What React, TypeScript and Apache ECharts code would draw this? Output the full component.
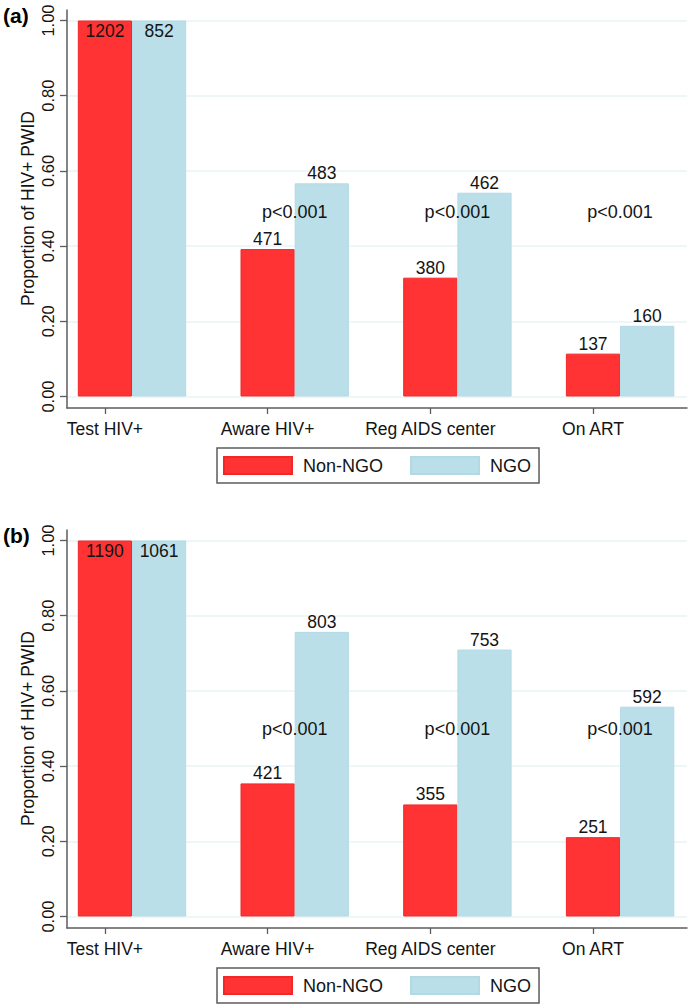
import React, { useEffect, useRef } from "react";
import * as echarts from "echarts";

const CATEGORIES = ["Test HIV+", "Aware HIV+", "Reg AIDS center", "On ART"];
const SERIES_NAMES = ["Non-NGO", "NGO"];

// Panel (a)
const A_NON_NGO_COUNTS = [1202, 471, 380, 137];
const A_NGO_COUNTS = [852, 483, 462, 160];
const A_NON_NGO_PROP = [1.0, 0.392, 0.316, 0.114];
const A_NGO_PROP = [1.0, 0.567, 0.542, 0.188];
const A_P_LABELS = ["", "p<0.001", "p<0.001", "p<0.001"];
const A_P_LEVEL = 0.49;

// Panel (b)
const B_NON_NGO_COUNTS = [1190, 421, 355, 251];
const B_NGO_COUNTS = [1061, 803, 753, 592];
const B_NON_NGO_PROP = [1.0, 0.354, 0.298, 0.211];
const B_NGO_PROP = [1.0, 0.757, 0.71, 0.558];
const B_P_LABELS = ["", "p<0.001", "p<0.001", "p<0.001"];
const B_P_LEVEL = 0.5;

const PANEL_LETTERS = ["(a)", "(b)"];
const Y_TITLE = "Proportion of HIV+ PWID";

const FONT = "'Liberation Sans', Arial, Helvetica, sans-serif";
const RED = "#FF3333";
const RED_BORDER = "#F22828";
const BLUE = "#BBDFE9";
const BLUE_BORDER = "#B2DAE5";
const AXIS_COLOR = "#5c5c5c";
const GRID_COLOR = "#E8F3F6";
const TEXT_COLOR = "#141414";

type PanelData = {
  redCounts: number[];
  blueCounts: number[];
  redProp: number[];
  blueProp: number[];
  pLabels: string[];
  pLevel: number;
};

const PANELS: PanelData[] = [
  {
    redCounts: A_NON_NGO_COUNTS,
    blueCounts: A_NGO_COUNTS,
    redProp: A_NON_NGO_PROP,
    blueProp: A_NGO_PROP,
    pLabels: A_P_LABELS,
    pLevel: A_P_LEVEL,
  },
  {
    redCounts: B_NON_NGO_COUNTS,
    blueCounts: B_NGO_COUNTS,
    redProp: B_NON_NGO_PROP,
    blueProp: B_NGO_PROP,
    pLabels: B_P_LABELS,
    pLevel: B_P_LEVEL,
  },
];

function buildOption() {
  const grid: any[] = [];
  const xAxis: any[] = [];
  const yAxis: any[] = [];
  const series: any[] = [];
  const legend: any[] = [];
  const title: any[] = [];

  const PLOT_TOP = 20.5;
  const PLOT_H = 376;
  const PANEL_DY = 520;
  const FRAME_LEFT = 67;
  const FRAME_W = 620;
  const BAND = 162.7;
  const BAR_W = 54.2;
  const FIRST_CENTER = 132;
  const TICKS_LEFT = FIRST_CENTER - BAR_W / 2 - BAND / 2;
  const AXIS_BOTTOM = 408;

  PANELS.forEach((p, pi) => {
    const dy = pi * PANEL_DY;
    const g0 = grid.length;

    // frame grid: y axis ticks, labels, gridlines
    grid.push({ left: FRAME_LEFT, top: PLOT_TOP + dy, width: FRAME_W, height: PLOT_H });
    xAxis.push({ gridIndex: g0, type: "value", show: false, min: 0, max: 1 });
    yAxis.push({
      gridIndex: g0,
      type: "value",
      min: 0,
      max: 1,
      interval: 0.2,
      axisLine: { show: false },
      axisTick: { show: true, length: 7, lineStyle: { color: AXIS_COLOR, width: 1.3 } },
      axisLabel: {
        rotate: 90,
        margin: 11,
        fontSize: 16.5,
        color: TEXT_COLOR,
        fontFamily: FONT,
        formatter: (v: number) => v.toFixed(2),
      },
      splitLine: { show: true, lineStyle: { color: GRID_COLOR, width: 1.5 } },
      name: Y_TITLE,
      nameLocation: "middle",
      nameRotate: 90,
      nameGap: 30,
      nameMoveOverlap: false,
      nameTextStyle: { fontSize: 17.5, color: TEXT_COLOR, fontFamily: FONT },
    });

    // line grid: axis lines
    grid.push({ left: FRAME_LEFT, top: 10 + dy, width: FRAME_W, height: AXIS_BOTTOM - 10 });
    xAxis.push({
      gridIndex: g0 + 1,
      type: "value",
      min: 0,
      max: 1,
      axisLine: { show: true, onZero: false, lineStyle: { color: AXIS_COLOR, width: 1.5 } },
      axisTick: { show: false },
      axisLabel: { show: false },
      splitLine: { show: false },
    });
    yAxis.push({
      gridIndex: g0 + 1,
      type: "value",
      min: 0,
      max: 1,
      axisLine: { show: true, onZero: false, lineStyle: { color: AXIS_COLOR, width: 1.5 } },
      axisTick: { show: false },
      axisLabel: { show: false },
      splitLine: { show: false },
    });

    // ticks grid: category labels at first-bar centres
    grid.push({ left: TICKS_LEFT, top: PLOT_TOP + dy, width: BAND * 4, height: AXIS_BOTTOM - PLOT_TOP });
    xAxis.push({
      gridIndex: g0 + 2,
      type: "category",
      data: CATEGORIES,
      axisLine: { show: false },
      axisTick: { show: true, alignWithLabel: true, length: 6, lineStyle: { color: AXIS_COLOR, width: 1.3 } },
      axisLabel: { margin: 12, fontSize: 17.5, color: TEXT_COLOR, fontFamily: FONT, interval: 0 },
    });
    yAxis.push({ gridIndex: g0 + 2, type: "value", show: false, min: 0, max: 1, splitLine: { show: false } });

    // bars grid: category points at group centres
    grid.push({ left: FIRST_CENTER, top: PLOT_TOP + dy, width: BAND * 3, height: PLOT_H });
    xAxis.push({ gridIndex: g0 + 3, type: "category", data: CATEGORIES, boundaryGap: false, show: false });
    yAxis.push({ gridIndex: g0 + 3, type: "value", show: false, min: 0, max: 1, splitLine: { show: false } });

    const mkBar = (name: string, props: number[], counts: number[], color: string, border: string) => ({
      type: "bar",
      name,
      xAxisIndex: g0 + 3,
      yAxisIndex: g0 + 3,
      barWidth: BAR_W,
      barGap: "0%",
      clip: false,
      z: 3,
      itemStyle: { color, borderColor: border, borderWidth: 1 },
      data: props.map((v) => ({
        value: v,
        label: { position: v >= 0.99 ? "insideTop" : "top", distance: 1 },
      })),
      label: {
        show: true,
        fontSize: 17.5,
        color: TEXT_COLOR,
        fontFamily: FONT,
        formatter: (d: any) => String(counts[d.dataIndex]),
      },
    });
    series.push(mkBar(SERIES_NAMES[0], p.redProp, p.redCounts, RED, RED_BORDER));
    series.push(mkBar(SERIES_NAMES[1], p.blueProp, p.blueCounts, BLUE, BLUE_BORDER));

    series.push({
      type: "scatter",
      name: "p",
      xAxisIndex: g0 + 3,
      yAxisIndex: g0 + 3,
      symbolSize: 1,
      z: 5,
      clip: false,
      itemStyle: { color: "rgba(0,0,0,0)", opacity: 1 },
      data: p.pLabels
        .map((t, i) => (t ? { value: [i, p.pLevel], name: t } : null))
        .filter((d) => d !== null),
      label: {
        show: true,
        position: "inside",
        fontSize: 18,
        color: TEXT_COLOR,
        opacity: 1,
        fontFamily: FONT,
        formatter: (d: any) => d.name,
      },
    });

    legend.push({
      data: SERIES_NAMES,
      left: 217,
      top: 448 + dy,
      orient: "horizontal",
      padding: [8, 8, 8, 6],
      itemGap: 27,
      itemWidth: 68,
      itemHeight: 17,
      icon: "rect",
      borderColor: AXIS_COLOR,
      borderWidth: 1.5,
      selectedMode: false,
      textStyle: { fontSize: 18, color: TEXT_COLOR, fontFamily: FONT, padding: [0, 0, 0, 6] },
    });

    title.push({
      text: PANEL_LETTERS[pi],
      left: 3,
      top: 5 + dy,
      padding: 0,
      textStyle: { fontSize: 21, fontWeight: "bold", color: "#000", fontFamily: FONT },
    });
  });

  return {
    animation: false,
    backgroundColor: "#ffffff",
    textStyle: { fontFamily: FONT },
    title,
    legend,
    grid,
    xAxis,
    yAxis,
    series,
  };
}

export default function App() {
  const ref = useRef<HTMLDivElement>(null);
  useEffect(() => {
    if (!ref.current) return;
    const chart = echarts.init(ref.current, undefined, { renderer: "svg" });
    chart.setOption(buildOption() as any);
    return () => chart.dispose();
  }, []);
  return (
    <div
      ref={ref}
      style={{ position: "absolute", left: 0, top: 0, width: 690, height: 1008, background: "#fff" }}
    />
  );
}
